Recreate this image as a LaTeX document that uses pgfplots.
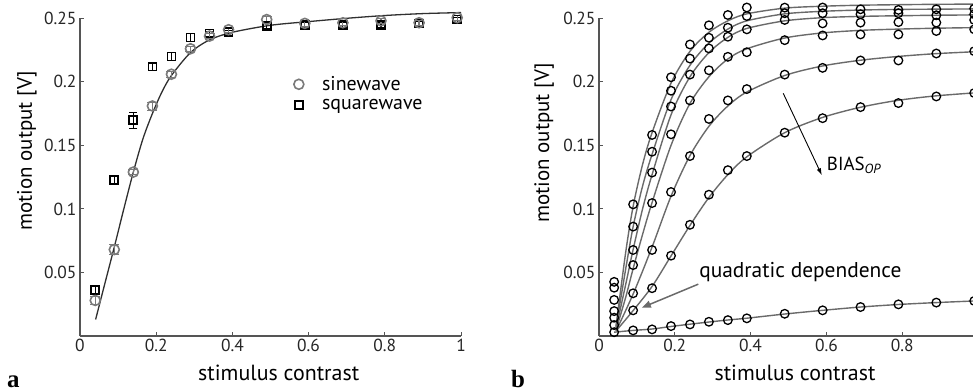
\documentclass[border=0pt]{standalone}
\usepackage{fontspec}
\setmainfont{PT Sans}
\newfontfamily\serifbold{Liberation Serif}
\usepackage{pgfplots}
\pgfplotsset{compat=1.18}
\usetikzlibrary{arrows.meta}
\definecolor{axgray}{HTML}{555555}
\definecolor{cgray}{HTML}{7A7A7A}
\definecolor{lgray}{HTML}{6A6A6A}
\definecolor{fitdark}{HTML}{303030}
\pgfplotsset{panel/.style={
  scale only axis, height=317.7bp,
  xmin=0, xmax=1, ymin=0, ymax=0.25,
  axis x line*=bottom, axis y line*=left,
  axis line style={-, draw=axgray, line width=1.1bp},
  xtick={0,0.2,0.4,0.6,0.8,1},
  ytick={0.05,0.1,0.15,0.2,0.25}, yticklabels={0.05,0.1,0.15,0.2,0.25},
  tick align=inside, major tick length=4bp,
  tick style={draw=axgray, line width=1bp},
  ticklabel style={font=\fontsize{17.5}{19}\selectfont, text=black!85},
  clip=false,
},
bline/.style={lgray, line width=1.4bp, smooth},
bcirc/.style={only marks, mark=o, mark size=4.3bp, black, line width=1.3bp, mark options={fill=white}}}
\begin{document}
\begin{tikzpicture}[x=1bp,y=1bp]
% ---------------- panel a ----------------
\begin{axis}[panel, width=381bp, at={(0,0)}, anchor=south west,
  xticklabels={0,0.2,0.4,0.6,0.8,1},
  legend style={draw=none, fill=none, at={(0.54,0.83)}, anchor=north west,
    font=\fontsize{20}{22}\selectfont, row sep=3bp},
  legend image code/.code={\path[draw=none, fill=none] (0cm,0cm) -- (1.1cm,0cm); \draw[#1] plot coordinates {(0.35cm,0cm)};},
  legend cell align=left]
\addlegendimage{only marks, mark=o, mark size=5bp, cgray, line width=1.6bp}
\addlegendentry{sinewave}
\addlegendimage{only marks, mark=square, mark size=4bp, black, line width=1.7bp}
\addlegendentry{squarewave}
% fit
\addplot[fitdark, line width=1.3bp, smooth, forget plot] coordinates {
(0.041,0.013) (0.065,0.041) (0.09,0.070) (0.115,0.100) (0.14,0.129) (0.165,0.155)
(0.19,0.175) (0.215,0.192) (0.24,0.205) (0.29,0.223) (0.34,0.233) (0.40,0.239)
(0.50,0.2445) (0.60,0.2474) (0.70,0.250) (0.80,0.2522) (0.90,0.2537) (1.0,0.2545)};
% squarewave
\addplot[only marks, mark=square, mark size=4bp, black, line width=1.7bp, forget plot,
  error bars/.cd, y dir=both, y explicit, error bar style={line width=1.2bp}]
  table[x=x, y=y, y error=e] {
x y e
0.04 0.036 0.003
0.09 0.123 0.003
0.14 0.170 0.0065
0.19 0.212 0.003
0.24 0.220 0.003
0.29 0.235 0.003
0.34 0.238 0.002
0.39 0.239 0.002
0.49 0.244 0.002
0.59 0.245 0.002
0.69 0.245 0.002
0.79 0.245 0.002
0.89 0.246 0.002
0.99 0.249 0.002
};
% sinewave
\addplot[only marks, mark=o, mark size=5bp, cgray, line width=1.6bp, forget plot,
  mark options={fill=white},
  error bars/.cd, y dir=both, y explicit, error bar style={line width=1.2bp}]
  table[x=x, y=y, y error=e] {
x y e
0.04 0.028 0.003
0.09 0.068 0.004
0.14 0.129 0.002
0.19 0.181 0.003
0.24 0.206 0.002
0.29 0.226 0.002
0.34 0.236 0.002
0.39 0.241 0.002
0.49 0.249 0.003
0.59 0.246 0.002
0.69 0.2465 0.002
0.79 0.248 0.002
0.89 0.2465 0.002
0.99 0.2505 0.002
};
\end{axis}
% ---------------- panel b ----------------
\begin{axis}[panel, width=379bp, at={(519bp,0)}, anchor=south west,
  xticklabels={0,0.2,0.4,0.6,0.8,{}}]
\addplot[bline] coordinates {(0.045,0.008) (0.07,0.065) (0.09,0.102) (0.115,0.135) (0.14,0.160) (0.19,0.199) (0.24,0.224) (0.29,0.239) (0.34,0.248) (0.39,0.2535) (0.49,0.2580) (0.59,0.2595) (0.69,0.2603) (0.79,0.2607) (0.89,0.261) (1.0,0.2612)};
\addplot[bline] coordinates {(0.045,0.007) (0.07,0.052) (0.09,0.086) (0.115,0.118) (0.14,0.143) (0.19,0.186) (0.24,0.213) (0.29,0.2305) (0.34,0.2415) (0.39,0.248) (0.49,0.2535) (0.59,0.2555) (0.69,0.2565) (0.79,0.257) (0.89,0.2572) (1.0,0.2574)};
\addplot[bline] coordinates {(0.045,0.006) (0.07,0.040) (0.09,0.068) (0.115,0.100) (0.14,0.127) (0.19,0.174) (0.24,0.204) (0.29,0.223) (0.34,0.235) (0.39,0.242) (0.49,0.248) (0.59,0.2505) (0.69,0.2515) (0.79,0.252) (0.89,0.2524) (1.0,0.2527)};
\addplot[bline] coordinates {(0.045,0.005) (0.07,0.030) (0.09,0.053) (0.115,0.080) (0.14,0.105) (0.19,0.150) (0.24,0.183) (0.29,0.204) (0.34,0.218) (0.39,0.226) (0.49,0.2345) (0.59,0.2385) (0.69,0.2405) (0.79,0.2415) (0.89,0.2422) (1.0,0.2427)};
\addplot[bline] coordinates {(0.045,0.004) (0.09,0.033) (0.14,0.070) (0.19,0.110) (0.24,0.142) (0.29,0.165) (0.34,0.181) (0.39,0.192) (0.49,0.205) (0.59,0.2125) (0.69,0.217) (0.79,0.220) (0.89,0.2222) (1.0,0.2238)};
\addplot[bline] coordinates {(0.045,0.004) (0.09,0.020) (0.14,0.039) (0.19,0.063) (0.24,0.087) (0.29,0.109) (0.34,0.127) (0.39,0.141) (0.49,0.160) (0.59,0.172) (0.69,0.180) (0.79,0.1855) (0.89,0.189) (1.0,0.1915)};
\addplot[bline] coordinates {(0.04,0.003) (0.09,0.0044) (0.14,0.0055) (0.19,0.0075) (0.24,0.0093) (0.29,0.0110) (0.34,0.0126) (0.39,0.0140) (0.49,0.0173) (0.59,0.0202) (0.69,0.0228) (0.79,0.0248) (0.89,0.0263) (1.0,0.0277)};
\pgfplotstableread{
x c1 c2 c3 c4 c5 c6 c7
0.04 0.0426 0.0380 0.0284 0.0196 0.0144 0.0086 0.0030
0.09 0.1036 0.0861 0.0677 0.0558 0.0336 0.0202 0.0044
0.14 0.1582 0.1450 0.1286 0.1046 0.0677 0.0376 0.0052
0.19 0.2036 0.1930 0.1806 0.1587 0.1133 0.0632 0.0078
0.24 0.2294 0.2183 0.2057 0.1854 0.1416 0.0875 0.0091
0.29 0.2445 0.2347 0.2263 0.2091 0.1708 0.1112 0.0112
0.34 0.2526 0.2426 0.2355 0.2197 0.1854 0.1305 0.0125
0.39 0.2585 0.2518 0.2413 0.2233 0.1943 0.1416 0.0139
0.49 0.2584 0.2540 0.2487 0.2328 0.2057 0.1600 0.0175
0.59 0.2585 0.2540 0.2460 0.2365 0.2110 0.1714 0.0202
0.69 0.2571 0.2532 0.2466 0.2373 0.2168 0.1801 0.0228
0.79 0.2566 0.2540 0.2470 0.2373 0.2168 0.1833 0.0249
0.89 0.2571 0.2524 0.2466 0.2400 0.2223 0.1885 0.0263
0.99 0.2576 0.2532 0.2487 0.2413 0.2241 0.1912 0.0276
}\bdata
\addplot[bcirc] table[x=x,y=c1] {\bdata};
\addplot[bcirc] table[x=x,y=c2] {\bdata};
\addplot[bcirc] table[x=x,y=c3] {\bdata};
\addplot[bcirc] table[x=x,y=c4] {\bdata};
\addplot[bcirc] table[x=x,y=c5] {\bdata};
\addplot[bcirc] table[x=x,y=c6] {\bdata};
\addplot[bcirc] table[x=x,y=c7] {\bdata};
\draw[-{Latex[length=7bp,width=4.5bp]}, line width=0.9bp, black] (axis cs:0.486,0.191) -- (axis cs:0.588,0.1265);
\node[anchor=base west, font=\fontsize{19}{21}\selectfont, inner sep=0pt] at (axis cs:0.601,0.1305) {BIAS\textsubscript{\itshape OP}};
\draw[-{Triangle[length=9bp,width=7bp]}, line width=1.5bp, lgray] (axis cs:0.262,0.0408) -- (axis cs:0.113,0.0223);
\node[anchor=base west, font=\fontsize{21.5}{23}\selectfont, inner sep=0pt] at (axis cs:0.264,0.046) {quadratic dependence};
\end{axis}
% labels
\node[anchor=base, font=\fontsize{22}{24}\selectfont] at (198.7,-44) {stimulus contrast};
\node[anchor=base, font=\fontsize{22}{24}\selectfont] at (715,-44) {stimulus contrast};
\node[anchor=base, rotate=90, font=\fontsize{21}{23}\selectfont] at (-48,185) {motion output [V]};
\node[anchor=base, rotate=90, font=\fontsize{21}{23}\selectfont] at (469,193) {motion output [V]};
\node[anchor=base west, inner sep=0pt, font=\serifbold\bfseries\fontsize{25}{27}\selectfont] at (-73,-51) {a};
\node[anchor=base west, inner sep=0pt, font=\serifbold\bfseries\fontsize{25}{27}\selectfont] at (431,-51) {b};
\pgfresetboundingbox
\path[use as bounding box] (-80,-55) rectangle (893,336);
\end{tikzpicture}
\end{document}
